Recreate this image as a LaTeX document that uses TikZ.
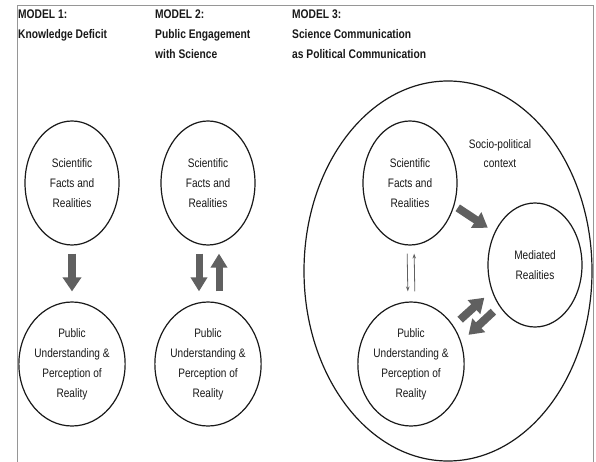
\documentclass[tikz,border=0pt]{standalone}
\usepackage{fontspec}
\setmainfont{Liberation Sans}[FakeStretch=0.82]
\usetikzlibrary{shapes.geometric,arrows.meta}

\definecolor{framegray}{RGB}{150,150,150}
\definecolor{arrowgray}{RGB}{96,96,96}
\definecolor{inkgray}{RGB}{25,25,25}

\tikzset{
  heading/.style={anchor=north west, inner sep=0pt, align=left, text=inkgray,
    font=\bfseries\fontsize{12.5}{20}\selectfont},
  bubble/.style={ellipse, draw=inkgray, line width=1.2pt, minimum width=94pt,
    minimum height=124pt, inner sep=0pt, align=center, text=inkgray,
    font=\fontsize{12.3}{20}\selectfont},
  bigarrow/.style={draw=arrowgray, line width=8pt,
    -{Triangle[length=14pt,width=18pt]}},
  thinarrow/.style={draw=arrowgray, line width=0.8pt,
    -{Stealth[length=5pt,width=3.5pt]}},
}

\begin{document}
\begin{tikzpicture}[x=1pt,y=-1pt]
  \useasboundingbox (0,0) rectangle (596,462);
  \fill[white] (0,0) rectangle (596,462);

  % outer frame, open at the bottom
  \draw[framegray, line width=1pt] (17,462) -- (17,6) -- (593,6) -- (593,462);

  % column headings
  \node[heading] (h1) at (18,10) {MODEL 1:\\Knowledge Deficit};
  \node[heading] (h2) at (155,10) {MODEL 2:\\Public Engagement\\with Science};
  \node[heading] (h3) at (292,10) {MODEL 3:\\Science Communication\\as Political Communication};

  % Model 1: knowledge deficit
  \node[bubble] (s1) at (72,183) {Scientific\\Facts and\\Realities};
  \node[bubble] (p1) at (72,364) {Public\\Understanding \&\\Perception of\\Reality};
  \draw[bigarrow, shorten <=8pt, shorten >=10pt] (s1.south) -- (p1.north);

  % Model 2: public engagement
  \node[bubble] (s2) at (208,183) {Scientific\\Facts and\\Realities};
  \node[bubble] (p2) at (208,364) {Public\\Understanding \&\\Perception of\\Reality};
  \draw[bigarrow, line width=7pt, -{Triangle[length=14pt,width=16pt]},
        shorten <=8pt, shorten >=10pt]
    ([xshift=-9pt]s2.south) -- ([xshift=-9pt]p2.north);
  \draw[bigarrow, line width=7pt, -{Triangle[length=14pt,width=16pt]},
        shorten <=10pt, shorten >=8pt]
    ([xshift=11pt]p2.north) -- ([xshift=11pt]s2.south);

  % Model 3: political communication inside a socio-political context
  \node[ellipse, draw=inkgray, line width=1.2pt, minimum width=288pt,
        minimum height=380pt, inner sep=0pt] (ctx) at (448,271) {};
  \node[align=center, text=inkgray, inner sep=0pt,
        font=\fontsize{12.3}{19}\selectfont] (ctxlabel) at (500,154)
        {Socio-political\\context};

  \node[bubble] (s3) at (410,183) {Scientific\\Facts and\\Realities};
  \node[bubble] (p3) at (411,364) {Public\\Understanding \&\\Perception of\\Reality};
  \node[bubble] (m3) at (535,265) {Mediated\\Realities};

  \draw[thinarrow, shorten <=8pt, shorten >=10pt]
    ([xshift=-3pt]s3.south) -- ([xshift=-3pt]p3.north);
  \draw[thinarrow, shorten <=10pt, shorten >=8pt]
    ([xshift=4pt]p3.north) -- ([xshift=4pt]s3.south);

  \draw[bigarrow, shorten <=4pt, shorten >=8pt] (s3.-27.5) -- (m3.141);
  \draw[bigarrow, shorten <=9pt, shorten >=10pt] (p3.42) -- (m3.211.6);
  \draw[bigarrow, shorten <=8pt, shorten >=10pt] (m3.229.5) -- (p3.24.8);
\end{tikzpicture}
\end{document}
